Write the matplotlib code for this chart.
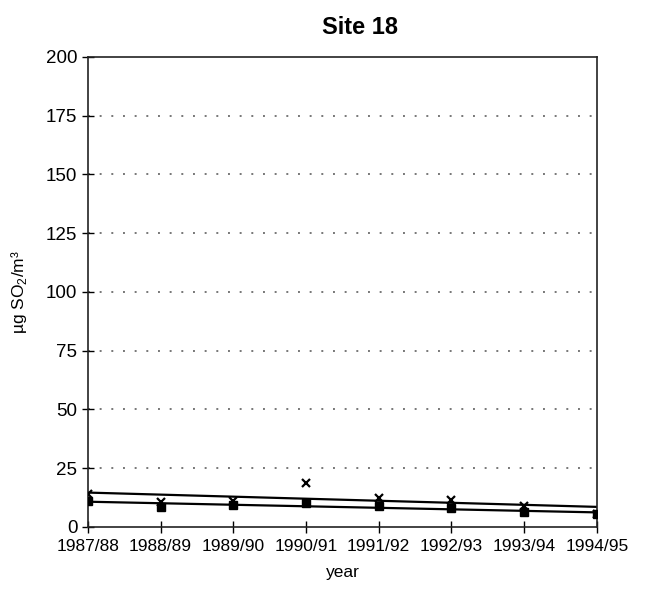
import numpy as np
import matplotlib
matplotlib.use("Agg")
import matplotlib.pyplot as plt

plt.rcParams['font.family'] = ['Liberation Sans', 'DejaVu Sans']
plt.rcParams['mathtext.fontset'] = 'custom'
plt.rcParams['mathtext.rm'] = 'Liberation Sans'

# annual means of SO2 at site 18
years = ['1987/88', '1988/89', '1989/90', '1990/91', '1991/92', '1992/93', '1993/94', '1994/95']
squares = [11.0, 8.5, 9.4, 10.2, 8.9, 8.0, 6.4, 5.5]
crosses = [14.0, 10.6, 11.2, 18.7, 12.3, 11.5, 9.0, 5.5]
yticks = [0, 25, 50, 75, 100, 125, 150, 175, 200]

x = np.arange(len(years))

fig = plt.figure(figsize=(6.46, 5.91), dpi=100)
ax = fig.add_axes([0.136, 0.1083, 0.788, 0.7953])

# dotted gridlines
for v in yticks[1:-1]:
    ax.axhline(v, color='#777777', lw=1.4, linestyle=(0, (1, 5)), zorder=0)

# linear trends through each series
for vals in (squares, crosses):
    k, b = np.polyfit(x, vals, 1)
    ax.plot(x, k * x + b, color='black', lw=1.6, zorder=2)

ax.plot(x, crosses, linestyle='none', marker='x', color='black', ms=6, mew=1.6, zorder=3)
ax.plot(x, squares, linestyle='none', marker='s', color='black', ms=6, zorder=4)

ax.set_xlim(0, len(years) - 1)
ax.set_ylim(0, 200)
ax.set_xticks(x)
ax.set_xticklabels(years)
ax.set_yticks(yticks)
ax.tick_params(axis='both', direction='inout', length=9, width=1, labelsize=12.5, colors='black')
ax.tick_params(axis='x', pad=4)
ax.tick_params(axis='y', pad=3, labelsize=13.5)
for s in ax.spines.values():
    s.set_linewidth(1.2)
    s.set_color('#222222')

ax.set_xlabel('year', fontsize=12.5, labelpad=8)
ax.set_ylabel(r'µg SO$_2$/m³', fontsize=12.5, labelpad=12)
fig.text(360 / 646, 1 - 27 / 591, 'Site 18', ha='center', va='center',
         fontsize=17, fontweight='bold')

fig.savefig('out.png', dpi=100)
